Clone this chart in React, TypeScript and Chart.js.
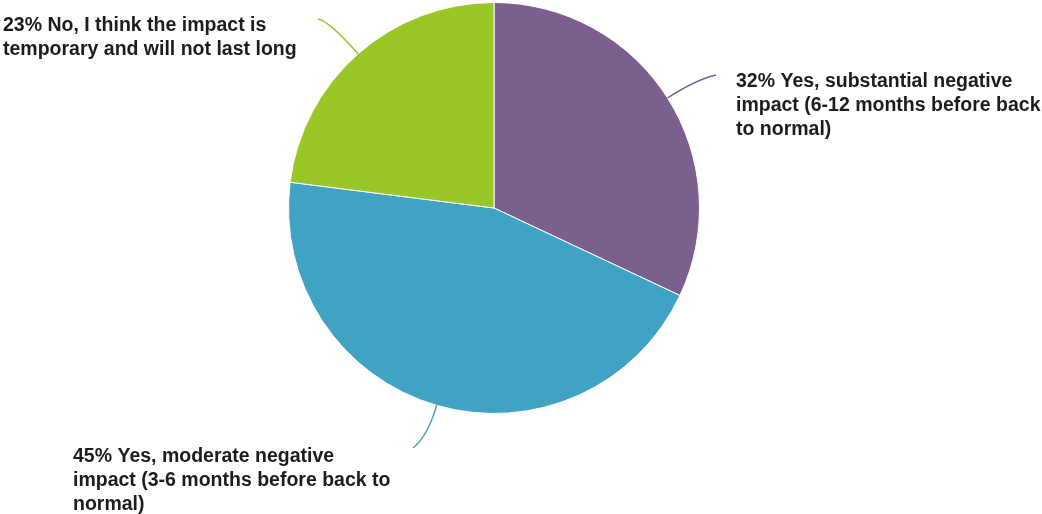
import React, { useEffect, useRef } from "react";
import { Chart, registerables } from "chart.js";

Chart.register(...registerables);

const categories = [
  "Yes, substantial negative impact (6-12 months before back to normal)",
  "Yes, moderate negative impact (3-6 months before back to normal)",
  "No, I think the impact is temporary and will not last long",
];
const values = [32, 45, 23];
const labelLines = [
  ["32% Yes, substantial negative", "impact (6-12 months before back", "to normal)"],
  ["45% Yes, moderate negative", "impact (3-6 months before back to", "normal)"],
  ["23% No, I think the impact is", "temporary and will not last long"],
];
const colors = ["#7B5F8E", "#41A3C3", "#98C727"];

// layout of labels (text origin of first baseline, and leader line end)
const textPos = [
  { x: 736, y: 87 },
  { x: 73, y: 462 },
  { x: 3, y: 31 },
];
const leaderEnd = [
  { x: 716, y: 75 },
  { x: 413, y: 448 },
  { x: 318, y: 19 },
];
const leaderCtrl = [35, 32, 44];

const labelPlugin = {
  id: "outLabels",
  afterDraw(chart: any) {
    const ctx = chart.ctx;
    const meta = chart.getDatasetMeta(0);
    meta.data.forEach((arc: any, i: number) => {
      const p = arc.getProps(["x", "y", "startAngle", "endAngle", "outerRadius"], true);
      const mid = (p.startAngle + p.endAngle) / 2;
      const sx = p.x + Math.cos(mid) * p.outerRadius;
      const sy = p.y + Math.sin(mid) * p.outerRadius;
      const cx = p.x + Math.cos(mid) * (p.outerRadius + leaderCtrl[i]);
      const cy = p.y + Math.sin(mid) * (p.outerRadius + leaderCtrl[i]);
      ctx.save();
      ctx.strokeStyle = colors[i];
      ctx.lineWidth = 1.5;
      ctx.beginPath();
      ctx.moveTo(sx, sy);
      ctx.quadraticCurveTo(cx, cy, leaderEnd[i].x, leaderEnd[i].y);
      ctx.stroke();
      ctx.fillStyle = "#1c1c1c";
      ctx.font = "bold 19.5px 'Liberation Sans', Arial, sans-serif";
      ctx.textAlign = "left";
      ctx.textBaseline = "alphabetic";
      labelLines[i].forEach((line, j) => {
        ctx.fillText(line, textPos[i].x, textPos[i].y + j * 24);
      });
      ctx.restore();
    });
  },
};

export default function App() {
  const ref = useRef<HTMLCanvasElement | null>(null);
  useEffect(() => {
    if (!ref.current) return;
    const chart = new Chart(ref.current, {
      type: "pie",
      data: {
        labels: categories,
        datasets: [
          {
            data: values,
            backgroundColor: colors,
            borderColor: "#ffffff",
            borderWidth: 1,
          },
        ],
      },
      options: {
        responsive: false,
        maintainAspectRatio: false,
        animation: false,
        layout: { padding: { left: 288, right: 342, top: 2, bottom: 100 } },
        plugins: {
          legend: { display: false },
          tooltip: { enabled: false },
        },
      },
      plugins: [labelPlugin],
    });
    return () => chart.destroy();
  }, []);
  return (
    <div style={{ position: "absolute", left: 0, top: 0, width: 1042, height: 514, background: "#fff" }}>
      <canvas ref={ref} width={1042} height={514} style={{ display: "block" }} />
    </div>
  );
}
